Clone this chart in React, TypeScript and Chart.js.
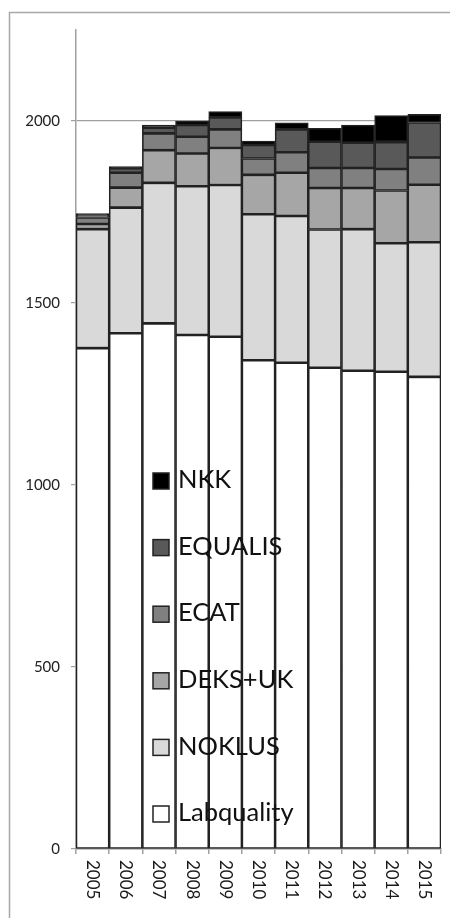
import React, { useEffect, useRef } from "react";
import { Chart, registerables } from "chart.js";

Chart.register(...registerables);

const years = ["2005", "2006", "2007", "2008", "2009", "2010", "2011", "2012", "2013", "2014", "2015"];
const labquality = [1376, 1417, 1444, 1412, 1407, 1343, 1336, 1322, 1314, 1311, 1297];
const noklus = [327, 345, 386, 409, 417, 401, 403, 380, 389, 353, 370];
const deksUk = [14, 55, 90, 90, 102, 108, 119, 114, 113, 145, 158];
const ecat = [18, 41, 46, 46, 51, 45, 56, 55, 55, 59, 75];
const equalis = [7, 12, 15, 32, 33, 37, 63, 72, 69, 74, 96];
const nkk = [4, 5, 8, 11, 16, 11, 18, 37, 49, 73, 22];

const seriesNames = ["Labquality", "NOKLUS", "DEKS+UK", "ECAT", "EQUALIS", "NKK"];
const seriesValues = [labquality, noklus, deksUk, ecat, equalis, nkk];
const seriesColors = ["#ffffff", "#d9d9d9", "#a6a6a6", "#808080", "#595959", "#000000"];

const yMax = 2250;
const yTickValues = [0, 500, 1000, 1500, 2000];

const FONT = "Lato, 'Open Sans', sans-serif";

const decorPlugin = {
  id: "decor",
  beforeDraw(chart: any) {
    const ctx = chart.ctx;
    ctx.save();
    ctx.fillStyle = "#ffffff";
    ctx.fillRect(0, 0, chart.width, chart.height);
    ctx.strokeStyle = "#a8a8a8";
    ctx.lineWidth = 1.5;
    ctx.beginPath();
    ctx.moveTo(9.5, chart.height);
    ctx.lineTo(9.5, 12.5);
    ctx.lineTo(chart.width, 12.5);
    ctx.stroke();
    ctx.restore();
  },
  afterDraw(chart: any) {
    const ctx = chart.ctx;
    const xs = chart.scales.x;
    const area = chart.chartArea;
    ctx.save();
    // rotated x labels (reading top to bottom)
    ctx.fillStyle = "#1a1a1a";
    ctx.font = `17px ${FONT}`;
    ctx.textAlign = "left";
    ctx.textBaseline = "middle";
    years.forEach((y, i) => {
      const x = xs.getPixelForValue(i);
      ctx.save();
      ctx.translate(x, area.bottom + 11);
      ctx.rotate(Math.PI / 2);
      ctx.fillText(y, 0, 0);
      ctx.restore();
    });
    // legend inside plot
    const boxX = 153;
    const textX = 178;
    const firstY = 481;
    const gap = 66.6;
    ctx.font = `25.5px ${FONT}`;
    for (let k = 0; k < seriesNames.length; k++) {
      const idx = seriesNames.length - 1 - k;
      const cy = firstY + k * gap;
      ctx.fillStyle = seriesColors[idx];
      ctx.fillRect(boxX, cy - 8, 16, 16);
      ctx.strokeStyle = "#222";
      ctx.lineWidth = 1.5;
      ctx.strokeRect(boxX, cy - 8, 16, 16);
      ctx.fillStyle = "#111";
      ctx.textBaseline = "middle";
      ctx.fillText(seriesNames[idx], textX, cy - 1);
    }
    ctx.restore();
  },
};

export default function App() {
  const ref = useRef<HTMLCanvasElement>(null);
  useEffect(() => {
    const canvas = ref.current;
    if (!canvas) return;
    const chart = new Chart(canvas, {
      type: "bar",
      data: {
        labels: years,
        datasets: seriesNames.map((name, i) => ({
          label: name,
          data: seriesValues[i],
          backgroundColor: seriesColors[i],
          borderColor: "#222222",
          borderWidth: 1.6,
          borderSkipped: false,
          barPercentage: 1,
          categoryPercentage: 1,
        })),
      },
      options: {
        animation: false,
        responsive: false,
        devicePixelRatio: 1,
        layout: { padding: { left: 0, top: 30, right: 9, bottom: 0 } },
        plugins: { legend: { display: false }, tooltip: { enabled: false } },
        scales: {
          x: {
            stacked: true,
            grid: {
              offset: true,
              drawOnChartArea: false,
              drawTicks: true,
              tickLength: 5,
              color: "#a0a0a0",
              lineWidth: 1.5,
            },
            border: { color: "#a0a0a0", width: 1.5 },
            ticks: { display: false },
            afterFit: (s: any) => {
              s.height = 69;
            },
          },
          y: {
            stacked: true,
            min: 0,
            max: yMax,
            ticks: {
              autoSkip: false,
              font: { family: FONT, size: 15 },
              color: "#222",
              padding: 11,
              callback: (v: any) => String(v),
            },
            afterBuildTicks: (s: any) => {
              s.ticks = yTickValues.map((v) => ({ value: v }));
            },
            afterFit: (s: any) => {
              s.width = 76;
            },
            grid: {
              color: "#a0a0a0",
              tickLength: 5,
              lineWidth: 1.2,
            },
            border: { color: "#a0a0a0", width: 1.5 },
          },
        },
      },
      plugins: [decorPlugin],
    });
    return () => chart.destroy();
  }, []);
  return (
    <div style={{ position: "fixed", left: 0, top: 0, width: 450, height: 918, background: "#fff" }}>
      <canvas ref={ref} width={450} height={918} style={{ display: "block", width: 450, height: 918 }} />
    </div>
  );
}
